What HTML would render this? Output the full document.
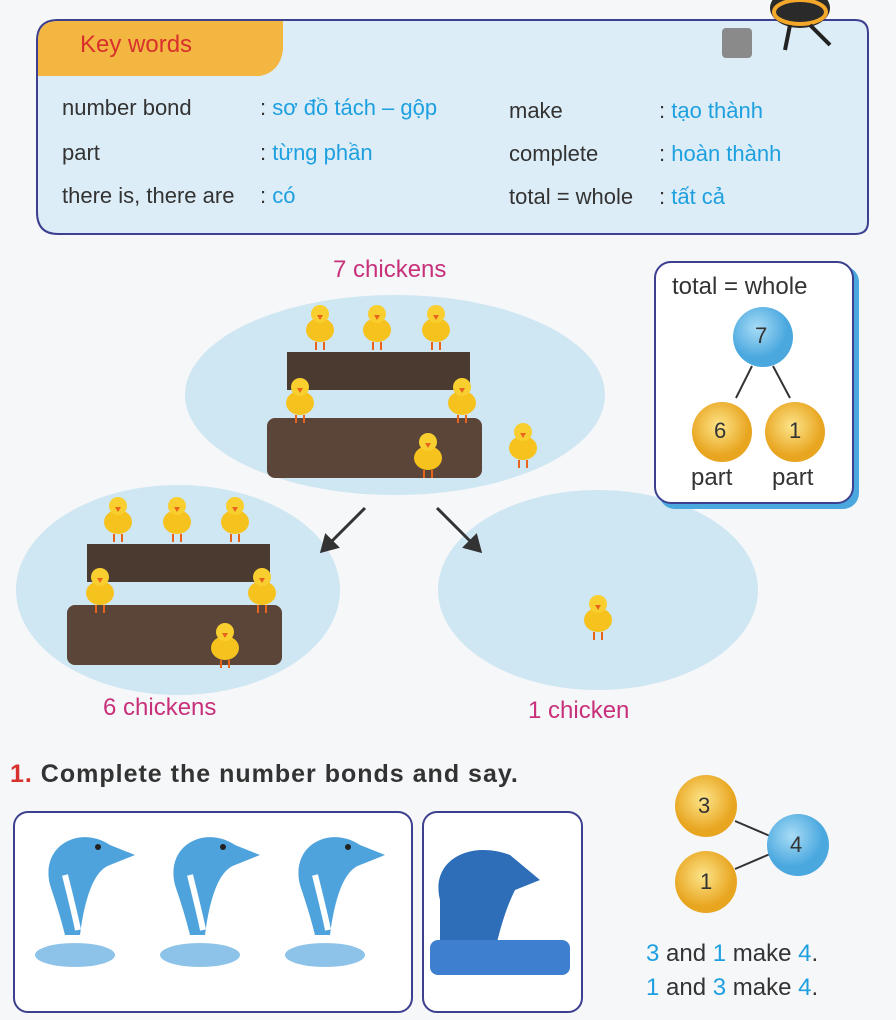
<!DOCTYPE html><html><head><meta charset="utf-8"><style>
body{margin:0;width:896px;height:1020px;background:#f5f7f9;position:relative;overflow:hidden;font-family:"Liberation Sans","DejaVu Sans",sans-serif;}
.a{position:absolute;white-space:nowrap}
.k{font-size:22px;color:#333}
.b{font-size:22px;color:#1ea0e0}
</style></head><body>
<svg class="a" style="left:0;top:0" width="896" height="1020">
<defs>
<radialGradient id="gb" cx="40%" cy="35%"><stop offset="0" stop-color="#a8dcf6"/><stop offset="1" stop-color="#4aa8df"/></radialGradient>
<radialGradient id="gy" cx="45%" cy="40%"><stop offset="0" stop-color="#fde58a"/><stop offset="1" stop-color="#e8a520"/></radialGradient>
<g id="ck"><ellipse cx="0" cy="8" rx="14" ry="12" fill="#f6c21e"/><circle cx="0" cy="-8" r="9" fill="#f8cf2e"/><path d="M-3 -7 l6 0 l-3 5z" fill="#e8641c"/><path d="M-4 20v8M4 20v8" stroke="#e8641c" stroke-width="2"/></g>
<g id="dol"><path d="M10 60 C0 20 40 0 70 20 L95 30 L70 40 C55 45 45 70 40 110 L25 110 C20 90 15 75 10 60z" fill="#4fa3dd"/><path d="M25 50 C30 70 35 90 38 105" stroke="#fff" stroke-width="6" fill="none"/><circle cx="58" cy="22" r="3" fill="#222"/><ellipse cx="35" cy="130" rx="40" ry="12" fill="#5ea9e0" opacity=".7"/></g>
</defs>
<path d="M58 20 H855 Q868 20 868 33 V222 Q868 234 855 234 H58 Q37 234 37 212 V41 Q37 20 58 20 Z" fill="#dcedf7" stroke="#3d3f8f" stroke-width="2"/>
<path d="M58 21 H283 V50 Q280 72 260 76 H38 V41 Q38 21 58 21Z" fill="#f3b640"/>
<rect x="722" y="28" width="30" height="30" rx="4" fill="#8a8a8a"/>
<ellipse cx="800" cy="8" rx="30" ry="20" fill="#2a2a2a"/><ellipse cx="800" cy="12" rx="26" ry="12" fill="none" stroke="#f3a82a" stroke-width="4"/>
<path d="M810 25 l20 20M790 25 l-5 25" stroke="#222" stroke-width="4"/>
<ellipse cx="395" cy="395" rx="210" ry="100" fill="#cfe6f3"/>
<ellipse cx="178" cy="590" rx="162" ry="105" fill="#cfe6f3"/>
<ellipse cx="598" cy="590" rx="160" ry="100" fill="#cfe6f3"/>
<rect x="287" y="352" width="183" height="38" fill="#4a3a30"/><rect x="267" y="418" width="215" height="60" rx="8" fill="#5a4538"/>
<rect x="87" y="544" width="183" height="38" fill="#4a3a30"/><rect x="67" y="605" width="215" height="60" rx="8" fill="#5a4538"/>
<use href="#ck" x="320" y="322"/><use href="#ck" x="377" y="322"/><use href="#ck" x="436" y="322"/><use href="#ck" x="300" y="395"/><use href="#ck" x="462" y="395"/><use href="#ck" x="428" y="450"/><use href="#ck" x="523" y="440"/>
<use href="#ck" x="118" y="514"/><use href="#ck" x="177" y="514"/><use href="#ck" x="235" y="514"/><use href="#ck" x="100" y="585"/><use href="#ck" x="262" y="585"/><use href="#ck" x="225" y="640"/><use href="#ck" x="598" y="612"/>
<g stroke="#333" stroke-width="3" fill="#333"><line x1="365" y1="508" x2="330" y2="543"/><path d="M322 551 l4 -15 l11 11z"/><line x1="437" y1="508" x2="472" y2="543"/><path d="M480 551 l-4 -15 l-11 11z"/></g>
<rect x="659" y="266" width="200" height="243" rx="16" fill="#4aa8df"/>
<rect x="655" y="262" width="198" height="241" rx="16" fill="#fff" stroke="#3d3f8f" stroke-width="2"/>
<g stroke="#333" stroke-width="2"><line x1="752" y1="366" x2="736" y2="398"/><line x1="773" y1="366" x2="790" y2="398"/><line x1="735" y1="821" x2="770" y2="836"/><line x1="735" y1="869" x2="770" y2="854"/></g>
<circle cx="763" cy="337" r="30" fill="url(#gb)"/><circle cx="722" cy="432" r="30" fill="url(#gy)"/><circle cx="795" cy="432" r="30" fill="url(#gy)"/>
<circle cx="706" cy="806" r="31" fill="url(#gy)"/><circle cx="706" cy="882" r="31" fill="url(#gy)"/><circle cx="798" cy="845" r="31" fill="url(#gb)"/>
<rect x="14" y="812" width="398" height="200" rx="14" fill="#fff" stroke="#3d3f8f" stroke-width="2"/>
<rect x="423" y="812" width="159" height="200" rx="14" fill="#fff" stroke="#3d3f8f" stroke-width="2"/>
<use href="#dol" x="40" y="825"/><use href="#dol" x="165" y="825"/><use href="#dol" x="290" y="825"/>
<path d="M440 900 C430 860 470 840 510 855 L540 880 L515 890 C505 910 500 930 495 950 L440 950z" fill="#2e6db8"/><rect x="430" y="940" width="140" height="35" rx="8" fill="#3e7fcf"/>
</svg>
<div class="a" style="left:80px;top:31px;font-size:24px;color:#d8302c">Key words</div>
<div class="a k" style="left:62px;top:95px">number bond</div><div class="a b" style="left:260px;top:95px"><span style="color:#333">: </span>sơ đồ tách – gộp</div>
<div class="a k" style="left:62px;top:140px">part</div><div class="a b" style="left:260px;top:140px"><span style="color:#333">: </span>từng phần</div>
<div class="a k" style="left:62px;top:183px">there is, there are</div><div class="a b" style="left:260px;top:183px"><span style="color:#333">: </span>có</div>
<div class="a k" style="left:509px;top:98px">make</div><div class="a b" style="left:659px;top:98px"><span style="color:#333">: </span>tạo thành</div>
<div class="a k" style="left:509px;top:141px">complete</div><div class="a b" style="left:659px;top:141px"><span style="color:#333">: </span>hoàn thành</div>
<div class="a k" style="left:509px;top:184px">total = whole</div><div class="a b" style="left:659px;top:184px"><span style="color:#333">: </span>tất cả</div>
<div class="a" style="left:333px;top:256px;font-size:24px;color:#c8307a">7 chickens</div>
<div class="a" style="left:103px;top:694px;font-size:24px;color:#c8307a">6 chickens</div>
<div class="a" style="left:528px;top:697px;font-size:24px;color:#c8307a">1 chicken</div>
<div class="a" style="left:672px;top:273px;font-size:24px;color:#333">total = whole</div>
<div class="a" style="left:755px;top:323px;font-size:22px;color:#333">7</div>
<div class="a" style="left:714px;top:418px;font-size:22px;color:#333">6</div>
<div class="a" style="left:789px;top:418px;font-size:22px;color:#333">1</div>
<div class="a" style="left:691px;top:464px;font-size:24px;color:#333">part</div>
<div class="a" style="left:772px;top:464px;font-size:24px;color:#333">part</div>
<div class="a" style="left:10px;top:760px;font-size:25px;letter-spacing:1px;font-weight:bold;color:#333"><span style="color:#d8302c">1.</span> Complete the number bonds and say.</div>
<div class="a" style="left:698px;top:793px;font-size:22px;color:#333">3</div>
<div class="a" style="left:700px;top:869px;font-size:22px;color:#333">1</div>
<div class="a" style="left:790px;top:832px;font-size:22px;color:#333">4</div>
<div class="a" style="left:646px;top:940px;font-size:24px;color:#333"><span style="color:#1ea0e0">3</span> and <span style="color:#1ea0e0">1</span> make <span style="color:#1ea0e0">4</span>.</div>
<div class="a" style="left:646px;top:974px;font-size:24px;color:#333"><span style="color:#1ea0e0">1</span> and <span style="color:#1ea0e0">3</span> make <span style="color:#1ea0e0">4</span>.</div>
</body></html>
